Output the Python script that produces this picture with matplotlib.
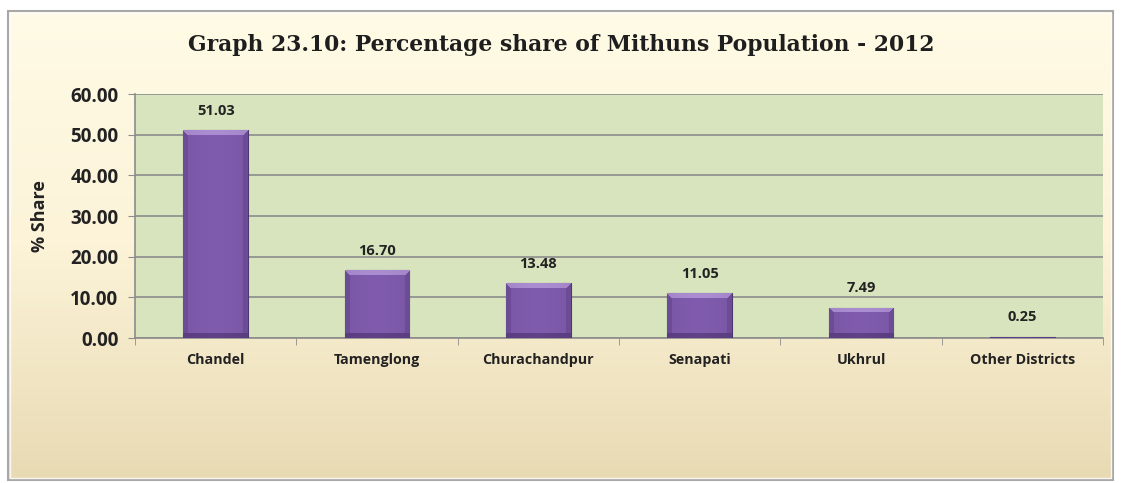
import numpy as np
import matplotlib
matplotlib.use("Agg")
import matplotlib.pyplot as plt
from matplotlib.patches import Rectangle
from matplotlib.colors import LinearSegmentedColormap, to_rgb

districts = ["Chandel", "Tamenglong", "Churachandpur", "Senapati", "Ukhrul", "Other Districts"]
share = [51.03, 16.70, 13.48, 11.05, 7.49, 0.25]
yticks = [0, 10, 20, 30, 40, 50, 60]

W, H = 1123, 483
fig = plt.figure(figsize=(W / 100, H / 100), dpi=100)
fig.patch.set_facecolor("white")

# background panel with gradient (figure-level axes in pixel coords)
bg = fig.add_axes([0, 0, 1, 1], zorder=0)
bg.set_xlim(0, W); bg.set_ylim(H, 0); bg.axis("off")
bgcm = LinearSegmentedColormap.from_list("bg", ["#FFFBE6", "#FCF3D8", "#E8DAB3"])
grad = np.linspace(0, 1, 256).reshape(-1, 1)
bg.imshow(grad, cmap=bgcm, extent=[8, 1113, 480, 11], aspect="auto", zorder=1)
bg.add_patch(Rectangle((8, 11), 1105, 469, fill=False, ec="#A8A8A8", lw=1.5, zorder=2))
bg.add_patch(Rectangle((10, 13), 1101, 465, fill=False, ec="#FFFFFF", lw=1.0, alpha=0.8, zorder=2))

fig.text(0.5, 1 - 45 / H, "Graph 23.10: Percentage share of Mithuns Population - 2012",
         ha="center", va="center", fontsize=15.75, fontweight="bold",
         family="DejaVu Serif", color="#1E1E1E")

ax = fig.add_axes([135 / W, 1 - 338 / H, 968 / W, 244 / H], zorder=2)
ax.set_facecolor("#D7E4BD")
x = np.arange(len(districts))
bars = ax.bar(x, share, width=0.4, color="#7A58A3", edgecolor="#4E3670", lw=0.8, zorder=3)
ax.set_xlim(-0.5, len(districts) - 0.5)
ax.set_ylim(0, 60)

# bevelled fill for each bar
fig.canvas.draw()
base = np.array(to_rgb("#7A57A5"))
top = np.array(to_rgb("#A386C8"))
side = np.array(to_rgb("#6B4C95"))
bot = np.array(to_rgb("#5A3E80"))
for b in bars:
    x0, w, h = b.get_x(), b.get_width(), b.get_height()
    (px0, py0), (px1, py1) = ax.transData.transform([(x0, 0), (x0 + w, h)])
    wp, hp = max(int(round(px1 - px0)), 2), max(int(round(py1 - py0)), 2)
    img = np.tile(base, (hp, wp, 1))
    bv = min(5, hp // 2)
    img[:, :bv] = side
    img[:, wp - bv:] = side
    img[hp - bv:, :] = bot
    for r in range(bv):
        img[r, r:wp - r] = top
    cols = np.arange(wp)
    sheen = 1 + 0.05 * np.sin(np.pi * cols / max(wp - 1, 1))
    img = np.clip(img * sheen[None, :, None], 0, 1)
    im = ax.imshow(img, extent=[x0, x0 + w, 0, h], aspect="auto", zorder=3.5,
                   interpolation="none")
    im.set_clip_path(b)
ax.set_xlim(-0.5, len(districts) - 0.5)
ax.set_ylim(0, 60)

for xi, v in zip(x, share):
    ax.annotate(f"{v:.2f}", (xi, v), xytext=(0, 9), textcoords="offset points",
                ha="center", va="bottom", fontsize=10.5, fontweight="bold",
                family="Open Sans", color="#222222")

ax.set_yticks(yticks)
ax.set_yticklabels([f"{t:.2f}" for t in yticks], fontsize=13.5, fontweight="bold",
                   family="Open Sans", color="#222222")
ax.set_xticks(x)
ax.set_xticklabels(districts, fontsize=10.3, fontweight="bold", family="Open Sans", color="#222222")
ax.set_xticks(np.arange(len(districts) + 1) - 0.5, minor=True)
ax.tick_params(axis="x", which="major", length=0, pad=11)
ax.tick_params(axis="x", which="minor", length=5, color="#8C8C8C", direction="out")
ax.tick_params(axis="y", length=5, color="#8C8C8C", pad=7)
ax.grid(axis="y", color="#8C8C8C", lw=1.2, zorder=1)
ax.set_axisbelow(True)
for s in ["top", "right"]:
    ax.spines[s].set_visible(False)
for s in ["left", "bottom"]:
    ax.spines[s].set_color("#8C8C8C")
    ax.spines[s].set_linewidth(1.2)
ax.set_ylabel("% Share", fontsize=13, fontweight="bold", family="Open Sans", color="#222222")
ax.yaxis.set_label_coords((49 - 135) / 968, 0.5)

fig.savefig("out.png", dpi=100)
